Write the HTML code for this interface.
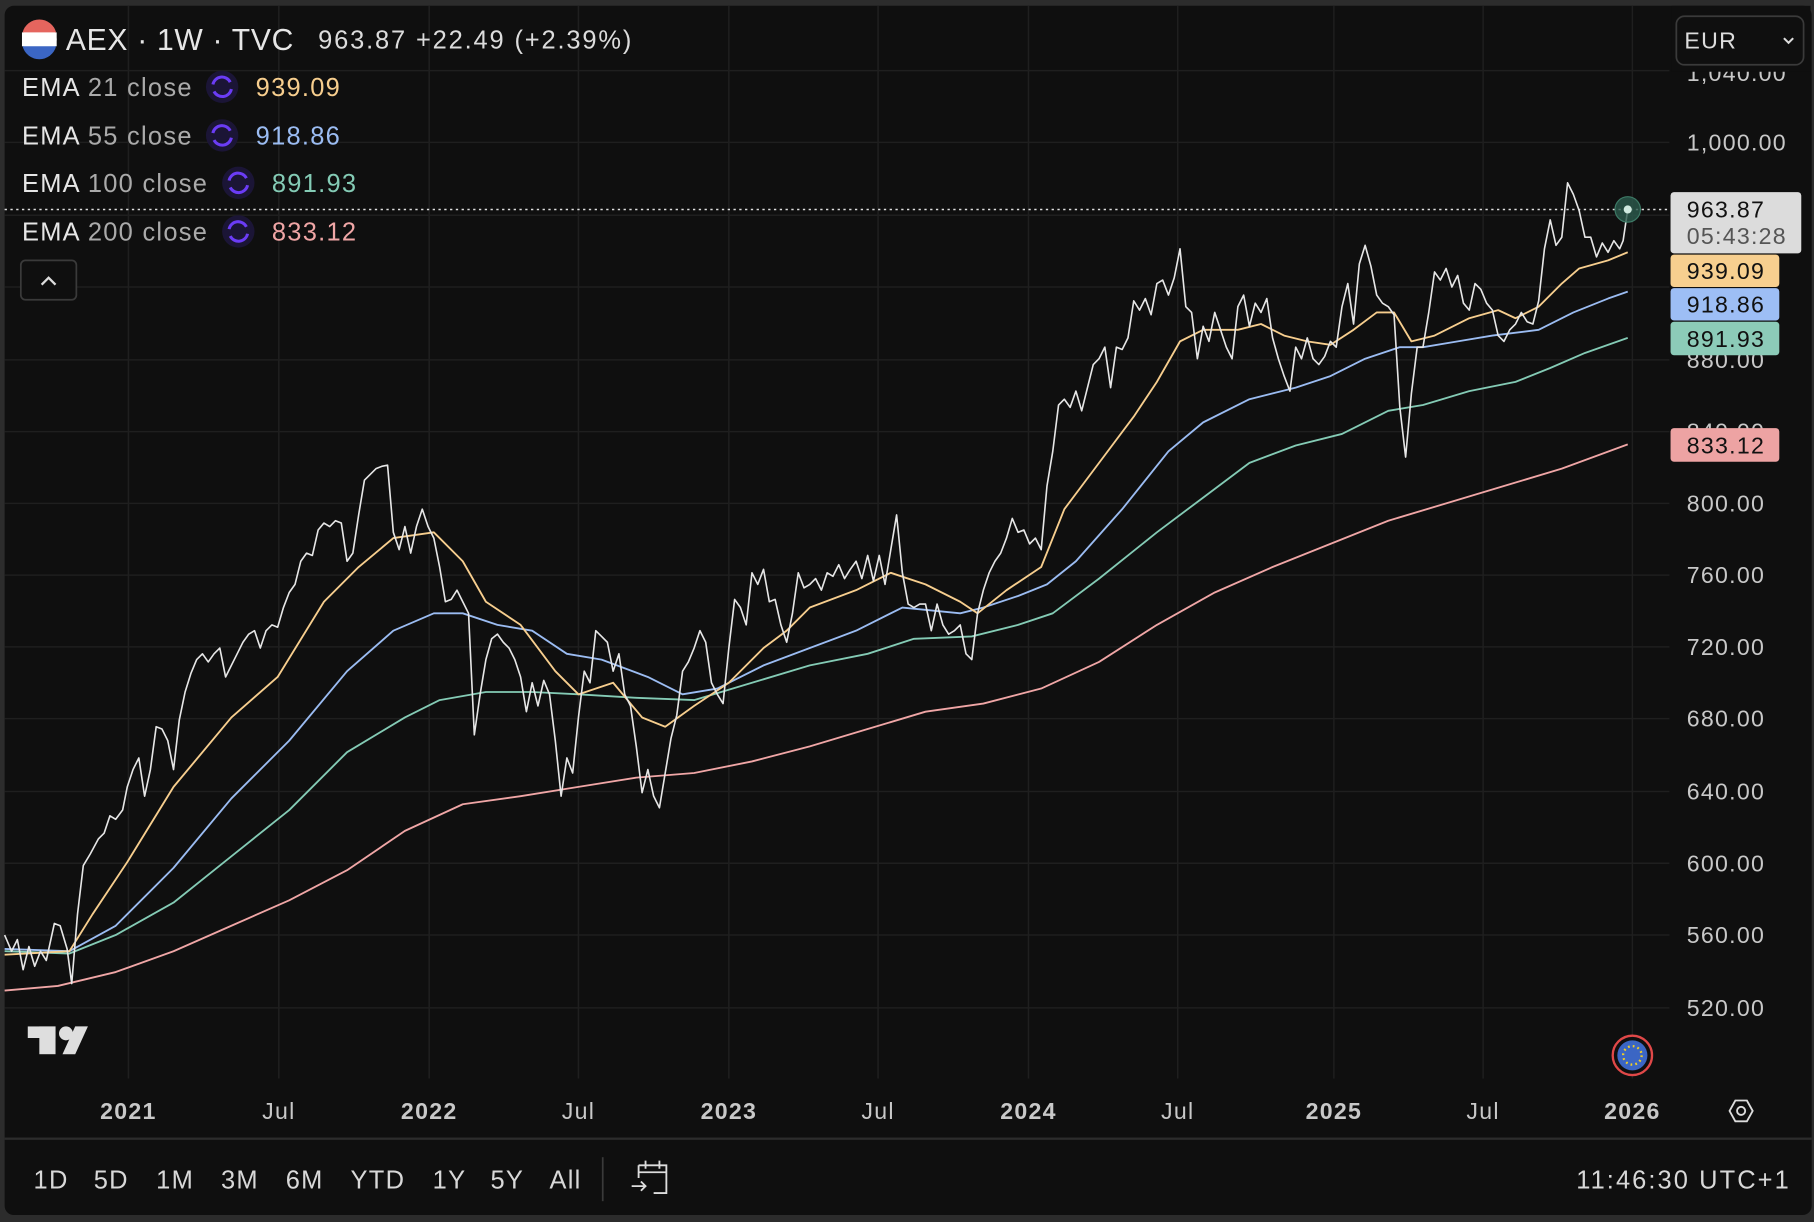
<!DOCTYPE html>
<html><head><meta charset="utf-8"><style>
html,body{margin:0;padding:0;background:#2a2a2a;width:1814px;height:1222px;overflow:hidden}
svg{display:block}
text{font-family:"Liberation Sans",sans-serif;letter-spacing:1.1px}
</style></head><body>
<svg width="1814" height="1222" viewBox="0 0 1568 1056" preserveAspectRatio="none">
<rect x="0" y="0" width="1568" height="1056" fill="#2c2c2c"/>
<rect x="4" y="5" width="1562" height="1045" rx="8" fill="#0f0f0f"/>
<g stroke="#1f1f1f" stroke-width="1.3">
<line x1="4" y1="61" x2="1443" y2="61"/><line x1="4" y1="123" x2="1443" y2="123"/><line x1="4" y1="186" x2="1443" y2="186"/><line x1="4" y1="248" x2="1443" y2="248"/><line x1="4" y1="311" x2="1443" y2="311"/><line x1="4" y1="373" x2="1443" y2="373"/><line x1="4" y1="435" x2="1443" y2="435"/><line x1="4" y1="497" x2="1443" y2="497"/><line x1="4" y1="559" x2="1443" y2="559"/><line x1="4" y1="621" x2="1443" y2="621"/><line x1="4" y1="684" x2="1443" y2="684"/><line x1="4" y1="746" x2="1443" y2="746"/><line x1="4" y1="808" x2="1443" y2="808"/><line x1="4" y1="871" x2="1443" y2="871"/>
<line x1="111" y1="5" x2="111" y2="932"/><line x1="241" y1="5" x2="241" y2="932"/><line x1="371" y1="5" x2="371" y2="932"/><line x1="500" y1="5" x2="500" y2="932"/><line x1="630" y1="5" x2="630" y2="932"/><line x1="759" y1="5" x2="759" y2="932"/><line x1="889" y1="5" x2="889" y2="932"/><line x1="1018" y1="5" x2="1018" y2="932"/><line x1="1153" y1="5" x2="1153" y2="932"/><line x1="1282" y1="5" x2="1282" y2="932"/><line x1="1411" y1="5" x2="1411" y2="932"/>
</g>
<line x1="4" y1="181" x2="1443" y2="181" stroke="#ddd" stroke-width="1.3" stroke-dasharray="2,3"/>
<g fill="none" stroke-width="1.6" stroke-linejoin="round">
<polyline stroke="#f0a6a6" points="4,856 50,852 100,840 150,822 200,800 250,778 300,752 350,718 400,695 450,688 500,680 550,672 600,668 650,658 700,645 750,630 800,615 850,608 900,595 950,572 1000,540 1050,512 1100,490 1150,470 1200,450 1250,435 1300,420 1350,405 1407,384"/>
<polyline stroke="#84cbb5" points="4,822 60,824 100,808 150,780 200,740 250,700 300,650 350,620 380,605 420,598 460,598 500,600 550,603 600,605 650,590 700,575 750,565 790,552 840,550 880,540 910,530 950,500 1000,460 1040,430 1080,400 1120,385 1160,375 1200,355 1230,350 1270,338 1310,330 1340,318 1370,305 1407,292"/>
<polyline stroke="#9bbcf2" points="4,820 60,822 100,800 150,750 200,690 250,640 300,580 340,545 375,530 400,530 430,540 460,545 490,565 520,570 560,585 590,600 620,595 660,575 700,560 740,545 780,525 830,530 850,525 880,515 905,505 930,485 970,440 1010,390 1040,365 1080,345 1120,335 1150,325 1180,310 1210,300 1230,300 1260,295 1290,290 1330,285 1360,270 1390,258 1407,252"/>
<polyline stroke="#f7ce8e" points="4,825 60,822 80,790 110,745 150,680 200,620 240,585 280,520 310,490 340,465 375,460 400,485 420,520 450,540 480,580 500,600 530,590 555,620 575,628 600,610 630,590 660,560 680,545 700,525 740,510 770,495 800,505 830,520 845,530 870,510 900,490 920,440 950,400 980,360 1000,330 1020,295 1040,285 1070,285 1090,280 1110,290 1130,295 1150,298 1170,285 1190,270 1205,270 1220,295 1240,290 1270,275 1295,268 1310,275 1330,265 1350,245 1365,232 1390,225 1407,218"/>
<polyline stroke="#e6e6e6" stroke-width="1.4" points="4,808 10,822 15,812 20,838 25,818 30,835 35,822 40,830 47,798 52,800 58,820 62,850 67,790 72,748 78,738 85,725 90,720 95,705 100,708 106,700 110,680 115,665 120,655 125,688 130,665 135,628 140,630 145,640 150,665 155,622 160,598 165,582 170,570 175,565 180,572 185,565 190,560 195,585 200,575 205,565 210,555 215,548 220,545 225,560 230,545 235,540 240,542 245,525 250,512 255,505 260,485 265,478 270,480 275,458 280,452 285,455 290,450 295,452 300,485 305,478 310,445 315,415 320,410 325,405 330,403 335,402 340,460 345,475 350,455 355,478 360,455 365,440 370,455 375,465 380,490 385,520 390,518 395,510 400,520 405,530 410,635 415,600 420,570 425,552 430,548 435,555 440,560 445,570 450,585 455,615 460,590 465,610 470,588 475,600 480,640 485,688 490,655 495,668 500,620 505,580 510,590 515,545 520,550 525,555 530,580 535,565 540,600 545,610 550,645 555,685 560,665 565,688 570,698 575,668 580,638 585,618 590,580 595,572 600,560 605,545 610,555 615,590 620,600 625,608 630,560 635,518 640,525 645,540 650,495 655,505 660,492 665,520 670,518 675,540 680,555 685,530 690,495 695,508 700,505 705,500 710,510 715,495 720,498 725,488 730,500 735,492 740,485 745,500 750,480 755,502 760,480 765,505 770,475 775,445 780,495 785,522 790,525 795,522 800,522 805,545 810,522 815,540 820,548 825,545 830,540 835,565 840,570 845,530 850,510 855,495 860,485 865,478 870,465 875,448 880,460 885,458 890,470 895,465 900,475 905,420 910,390 915,350 920,345 925,352 930,338 935,355 940,335 945,315 950,310 955,300 960,335 965,300 970,302 975,292 980,260 985,268 990,258 995,272 1000,245 1005,242 1010,255 1015,240 1020,215 1025,265 1030,270 1035,310 1040,282 1045,295 1050,270 1055,285 1060,300 1065,310 1070,265 1075,255 1080,282 1085,262 1090,270 1095,258 1100,292 1105,310 1110,325 1115,338 1120,300 1125,310 1130,292 1135,310 1140,315 1145,308 1150,295 1155,300 1160,265 1165,245 1170,280 1175,228 1180,212 1185,230 1190,255 1195,262 1200,265 1205,272 1210,352 1215,395 1220,340 1225,300 1230,300 1235,270 1240,235 1245,242 1250,232 1255,248 1260,238 1265,262 1270,268 1275,245 1280,250 1285,262 1290,268 1295,290 1300,295 1305,285 1310,280 1315,270 1320,278 1325,280 1330,260 1335,215 1340,190 1345,212 1350,205 1355,158 1360,168 1365,182 1370,205 1375,205 1380,222 1385,210 1390,218 1395,208 1400,215 1403,208 1407,181"/>
</g>
<circle cx="1407" cy="181" r="11" fill="#2b5a4c" fill-opacity="0.8" stroke="#3d7a66"/>
<circle cx="1407" cy="181" r="3.5" fill="#cfe9df"/>
<!-- price axis -->
<g fill="#c8c8c8" font-size="20" style="letter-spacing:1.5px">
<text x="1458" y="70">1,040.00</text>
<text x="1458" y="130">1,000.00</text>
<text x="1458" y="318">880.00</text>
<text x="1458" y="380">840.00</text>
<text x="1458" y="442">800.00</text>
<text x="1458" y="504">760.00</text>
<text x="1458" y="566">720.00</text>
<text x="1458" y="628">680.00</text>
<text x="1458" y="691">640.00</text>
<text x="1458" y="753">600.00</text>
<text x="1458" y="815">560.00</text>
<text x="1458" y="878">520.00</text>
</g>
<rect x="1445" y="5" width="120" height="57" fill="#0f0f0f"/>
<rect x="1449" y="14" width="110" height="42" rx="7" fill="#0f0f0f" stroke="#3a3a3a" stroke-width="1.5"/>
<text x="1456" y="42" fill="#ddd" font-size="20">EUR</text>
<polyline points="1542,33 1546,37 1550,33" fill="none" stroke="#ddd" stroke-width="1.8"/>
<g font-size="20" style="letter-spacing:1.5px">
<rect x="1444" y="166" width="113" height="53" rx="3" fill="#dcdcdc"/>
<text x="1458" y="188" fill="#111">963.87</text>
<text x="1458" y="211" fill="#555">05:43:28</text>
<rect x="1444" y="220" width="94" height="28" rx="3" fill="#f7cf8f"/>
<text x="1458" y="241" fill="#111">939.09</text>
<rect x="1444" y="249" width="94" height="28" rx="3" fill="#9dbef5"/>
<text x="1458" y="270" fill="#111">918.86</text>
<rect x="1444" y="278" width="94" height="29" rx="3" fill="#8ccbb8"/>
<text x="1458" y="300" fill="#111">891.93</text>
<rect x="1444" y="370" width="94" height="29" rx="3" fill="#eda3a3"/>
<text x="1458" y="392" fill="#111">833.12</text>
</g>
<!-- header -->
<circle cx="34" cy="34" r="15" fill="#fff"/>
<rect x="19" y="28" width="30" height="12" fill="#fff"/>
<path d="M19.5,28 A15,15 0 0 1 48.5,28 Z" fill="#e5655e"/>
<path d="M19.5,40 A15,15 0 0 0 48.5,40 Z" fill="#3b66c4"/>
<text x="57" y="43" fill="#e6e6e6" font-size="26" style="letter-spacing:0.6px">AEX · 1W · TVC</text>
<text x="275" y="42" fill="#dcdcdc" font-size="22" style="letter-spacing:1.6px">963.87  +22.49 (+2.39%)</text>
<g font-size="22">
<text x="19" y="83" fill="#e6e6e6">EMA <tspan fill="#aaa">21 close</tspan></text>
<text x="19" y="125" fill="#e6e6e6">EMA <tspan fill="#aaa">55 close</tspan></text>
<text x="19" y="166" fill="#e6e6e6">EMA <tspan fill="#aaa">100 close</tspan></text>
<text x="19" y="208" fill="#e6e6e6">EMA <tspan fill="#aaa">200 close</tspan></text>
<text x="221" y="83" fill="#f7ce8e">939.09</text>
<text x="221" y="125" fill="#9bbcf2">918.86</text>
<text x="235" y="166" fill="#84cbb5">891.93</text>
<text x="235" y="208" fill="#f0a6a6">833.12</text>
</g>
<g fill="#1b1536">
<circle cx="192" cy="75" r="14"/><circle cx="192" cy="117" r="14"/><circle cx="206" cy="158" r="14"/><circle cx="206" cy="200" r="14"/>
</g>
<g fill="none" stroke="#6b3cf5" stroke-width="2.6">
<path d="M184,73 A8,8 0 0 1 199,71 M200,77 A8,8 0 0 1 185,79"/>
<path d="M184,115 A8,8 0 0 1 199,113 M200,119 A8,8 0 0 1 185,121"/>
<path d="M198,156 A8,8 0 0 1 213,154 M214,160 A8,8 0 0 1 199,162"/>
<path d="M198,198 A8,8 0 0 1 213,196 M214,202 A8,8 0 0 1 199,204"/>
</g>
<rect x="18" y="225" width="48" height="34" rx="4" fill="#0f0f0f" stroke="#3a3a3a" stroke-width="1.5"/>
<polyline points="36,246 42,240 48,246" fill="none" stroke="#ddd" stroke-width="2"/>
<!-- TV logo -->
<g fill="#dedede">
<rect x="24" y="887" width="24" height="10"/><rect x="34" y="887" width="14" height="24"/>
<circle cx="57" cy="893" r="6"/>
<polygon points="65,887 76,887 65,911 54,911"/>
</g>
<!-- EU -->
<circle cx="1411" cy="912" r="17" fill="#0f0f0f" stroke="#e04848" stroke-width="2"/>
<circle cx="1411" cy="912" r="13" fill="#3b66c4"/>
<circle cx="1411" cy="912" r="8" fill="none" stroke="#f2d024" stroke-width="2" stroke-dasharray="1.5,2.7"/>
<!-- time axis -->
<g font-size="20" fill="#c8c8c8" text-anchor="middle" style="letter-spacing:1.5px">
<text x="111" y="967" font-weight="bold">2021</text>
<text x="241" y="967">Jul</text>
<text x="371" y="967" font-weight="bold">2022</text>
<text x="500" y="967">Jul</text>
<text x="630" y="967" font-weight="bold">2023</text>
<text x="759" y="967">Jul</text>
<text x="889" y="967" font-weight="bold">2024</text>
<text x="1018" y="967">Jul</text>
<text x="1153" y="967" font-weight="bold">2025</text>
<text x="1282" y="967">Jul</text>
<text x="1411" y="967" font-weight="bold">2026</text>
</g>
<polygon points="1495,960 1500,951 1510,951 1515,960 1510,969 1500,969" fill="none" stroke="#ddd" stroke-width="1.6"/>
<circle cx="1505" cy="960" r="3.5" fill="none" stroke="#ddd" stroke-width="1.6"/>
<rect x="4" y="983" width="1562" height="2" fill="#2c2c2c"/>
<g font-size="22" fill="#d8d8d8" style="letter-spacing:1.2px">
<text x="29" y="1027">1D</text><text x="81" y="1027">5D</text><text x="135" y="1027">1M</text><text x="191" y="1027">3M</text><text x="247" y="1027">6M</text><text x="303" y="1027">YTD</text><text x="374" y="1027">1Y</text><text x="424" y="1027">5Y</text><text x="475" y="1027">All</text>
<text x="1548" y="1027" text-anchor="end" style="letter-spacing:1.8px">11:46:30 UTC+1</text>
</g>
<line x1="521" y1="1000" x2="521" y2="1038" stroke="#3a3a3a" stroke-width="1.5"/>
<g fill="none" stroke="#ddd" stroke-width="1.6">
<path d="M552,1007 H576 V1031 H565 M552,1007 V1018 M552,1013 H576 M558,1003 V1010 M570,1003 V1010 M546,1025 H558 M554,1021 L558,1025 L554,1029"/>
</g>
</svg>
</body></html>
